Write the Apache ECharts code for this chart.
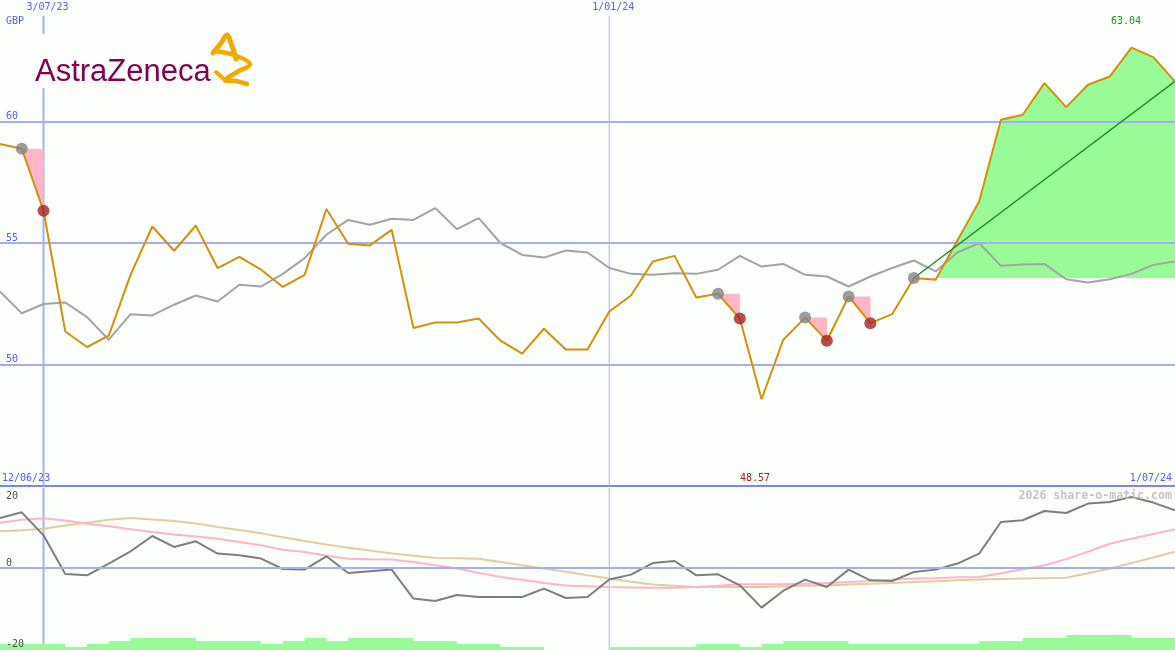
<!DOCTYPE html>
<html>
<head>
<meta charset="utf-8">
<script src="https://cdn.jsdelivr.net/npm/echarts@6.0.0/dist/echarts.min.js"></script>
<style>
html,body{margin:0;padding:0;background:#fdfffd;}
#chart{width:1175px;height:650px;}
</style>
</head>
<body>
<div id="chart"></div>
<script>
// ---- categories (weekly, Mondays) ----
const dates = [
  '19/06/23','26/06/23','3/07/23','10/07/23','17/07/23','24/07/23','31/07/23','7/08/23','14/08/23','21/08/23',
  '28/08/23','4/09/23','11/09/23','18/09/23','25/09/23','2/10/23','9/10/23','16/10/23','23/10/23','30/10/23',
  '6/11/23','13/11/23','20/11/23','27/11/23','4/12/23','11/12/23','18/12/23','25/12/23','1/01/24','8/01/24',
  '15/01/24','22/01/24','29/01/24','5/02/24','12/02/24','19/02/24','26/02/24','4/03/24','11/03/24','18/03/24',
  '25/03/24','1/04/24','8/04/24','15/04/24','22/04/24','29/04/24','6/05/24','13/05/24','20/05/24','27/05/24',
  '3/06/24','10/06/24','17/06/24','24/06/24','1/07/24'
];

// ---- price (GBP) ----
const price = [
  59.07,58.88,56.33,51.36,50.72,51.19,53.69,55.68,54.68,55.72,
  53.97,54.43,53.90,53.19,53.69,56.40,54.97,54.90,55.54,51.50,
  51.73,51.73,51.89,50.98,50.45,51.47,50.62,50.62,52.18,52.84,
  54.24,54.47,52.76,52.91,51.89,48.57,51.02,51.93,50.98,52.80,
  51.70,52.07,53.56,53.49,55.10,56.71,60.07,60.28,61.58,60.59,
  61.51,61.85,63.04,62.65,61.65
];

// ---- moving average (gray) ----
const avg = [
  53.00,52.11,52.49,52.55,51.95,51.02,52.07,52.02,52.46,52.84,
  52.59,53.28,53.21,53.73,54.38,55.34,55.95,55.75,56.00,55.95,
  56.44,55.57,56.02,55.00,54.51,54.40,54.69,54.61,53.97,53.73,
  53.69,53.76,53.73,53.90,54.47,54.03,54.14,53.69,53.62,53.21,
  53.62,53.97,54.28,53.83,54.61,55.00,54.06,54.12,54.14,53.51,
  53.37,53.51,53.73,54.10,54.24
];

// ---- signals: peak index (gray dot) followed by drop (red dot) ----
const peaks = [1, 33, 37, 39, 42];
const drops = [2, 34, 38, 40];
const buyIndex = 42;
const trendStart = 42, trendEnd = 54;

// ---- oscillator panel ----
const osc = [
  12.35,13.75,8.07,-1.48,-1.80,1.09,4.12,7.90,5.19,6.59,
  3.56,3.14,2.32,-0.25,-0.40,2.89,-1.23,-0.81,-0.40,-7.56,
  -8.15,-6.67,-7.16,-7.16,-7.16,-5.09,-7.41,-7.16,-2.86,-1.63,
  1.23,1.73,-1.80,-1.56,-4.27,-9.78,-5.60,-2.86,-4.69,-0.40,
  -3.04,-3.20,-0.99,-0.40,1.09,3.56,11.36,11.78,14.07,13.58,
  15.90,16.30,17.53,16.15,14.25
];
const oscPink = [
  11.2,11.9,12.3,11.7,10.95,10.3,9.55,8.9,8.3,7.8,
  7.25,6.4,5.6,4.5,3.95,3.1,2.3,2.15,2.1,1.5,
  0.67,-0.1,-1.2,-2.2,-2.9,-3.7,-4.3,-4.5,-4.7,-4.8,
  -4.9,-4.9,-4.7,-4.4,-4.0,-4.0,-4.0,-3.9,-3.7,-3.45,
  -3.2,-2.9,-2.6,-2.5,-2.3,-2.2,-1.3,-0.3,0.67,2.2,
  4.0,6.0,7.2,8.4,9.5
];
const oscTan = [
  9.06,9.3,9.7,10.5,11.2,11.9,12.35,12.0,11.6,11.0,
  10.1,9.4,8.6,7.6,6.67,5.8,5.0,4.3,3.6,3.0,
  2.5,2.4,2.3,1.5,0.7,-0.1,-0.9,-1.8,-2.6,-3.4,
  -4.1,-4.4,-4.7,-4.7,-4.7,-4.7,-4.5,-4.4,-4.3,-4.1,
  -3.9,-3.7,-3.45,-3.25,-3.05,-2.86,-2.7,-2.6,-2.5,-2.4,
  -1.3,-0.1,1.2,2.6,4.0
];

// ---- volume blocks (relative) ----
const volume = [
  6,6,6,3,6,9,12,12,12,9,
  9,9,6,9,12,9,12,12,12,9,
  9,6,6,3,3,0,0,0,3,3,
  3,3,6,6,3,6,9,9,9,6,
  6,6,6,6,6,9,9,12,12,15,
  15,15,12,12,12
];

// ---- axis ticks / labels ----
const priceTicks = [50, 55, 60];
const oscTicks = [-20, 0, 20];
const vLines = [{idx: 2, label: '3/07/23', width: 2}, {idx: 28, label: '1/01/24', width: 1}];
const rangeStart = '12/06/23', rangeEnd = '1/07/24';
const maxLabel = '63.04', minLabel = '48.57';

// ---- styles ----
const GRID_BLUE = '#a4b0f4';
const SEP_BLUE = '#7888ec';
const TXT_BLUE = '#5060f0';
const MONO = '"DejaVu Sans Mono", monospace';
const GOLD = '#f0aa00';

const chart = echarts.init(document.getElementById('chart'), null, {renderer: 'canvas'});

const greenArea = price.map((v, i) => i >= buyIndex + 1 ? v : null);
const trend = [[trendStart, price[trendStart]], [trendEnd, price[trendEnd]]];

const baseX = {type: 'category', data: dates, boundaryGap: false,
  axisLabel: {show: false}, axisTick: {show: false}, splitLine: {show: false}};

function goldLine(points, w) {
  return {type: 'polyline', z: 21, shape: {points: points, smooth: 0.35},
    style: {stroke: GOLD, lineWidth: w, fill: null, lineJoin: 'round', lineCap: 'round'}};
}

const option = {
  animation: false,
  backgroundColor: '#fdfffd',
  grid: [
    {left: 0, right: 0, top: 0, height: 486},
    {left: 0, right: 0, top: 487, height: 162},
    {left: 0, right: 0, top: 600, height: 50}
  ],
  xAxis: [
    Object.assign({}, baseX, {gridIndex: 0, axisLine: {show: true, lineStyle: {color: SEP_BLUE, width: 2}}}),
    Object.assign({}, baseX, {gridIndex: 1, axisLine: {show: false}}),
    Object.assign({}, baseX, {gridIndex: 2, axisLine: {show: false}})
  ],
  yAxis: [
    {gridIndex: 0, type: 'value', min: 45, max: 65, interval: 5, z: 10,
      axisLine: {show: false}, axisTick: {show: false}, splitLine: {show: false},
      axisLabel: {inside: true, margin: 6, verticalAlign: 'bottom', color: TXT_BLUE,
        fontFamily: MONO, fontSize: 10,
        formatter: v => priceTicks.indexOf(v) >= 0 ? String(v) : ''}},
    {gridIndex: 1, type: 'value', min: -20, max: 20, interval: 20, z: 10,
      axisLine: {show: false}, axisTick: {show: false}, splitLine: {show: false},
      axisLabel: {inside: true, margin: 6, verticalAlign: 'bottom', color: '#505050',
        fontFamily: MONO, fontSize: 10,
        formatter: v => (v !== 20 && oscTicks.indexOf(v) >= 0) ? String(v) : ''}},
    {gridIndex: 2, type: 'value', min: 0, max: 50, show: false}
  ],
  series: [
    // horizontal grid lines (top)
    {type: 'line', xAxisIndex: 0, yAxisIndex: 0, data: [], z: 1, silent: true,
      markLine: {symbol: 'none', silent: true, label: {show: false},
        lineStyle: {color: GRID_BLUE, width: 2, type: 'solid'},
        data: priceTicks.map(v => ({yAxis: v}))}},
    // horizontal zero line (bottom)
    {type: 'line', xAxisIndex: 1, yAxisIndex: 1, data: [], z: 1, silent: true,
      markLine: {symbol: 'none', silent: true, label: {show: false},
        lineStyle: {color: GRID_BLUE, width: 2, type: 'solid'},
        data: [{yAxis: 0}]}},
    // vertical date lines (top panel) with labels
    {type: 'custom', xAxisIndex: 0, yAxisIndex: 0, z: 1, silent: true,
      data: vLines.map(d => [d.idx, d.width]),
      renderItem: (params, api) => {
        const d = vLines[params.dataIndex];
        const top = api.coord([api.value(0), 64.35]);
        const bot = api.coord([api.value(0), 45]);
        return {type: 'group', children: [
          {type: 'line', shape: {x1: top[0], y1: top[1], x2: bot[0], y2: bot[1]},
            style: {stroke: GRID_BLUE, lineWidth: api.value(1)}},
          {type: 'text', style: {text: d.label, x: top[0] + 4, y: 2, align: 'center', verticalAlign: 'top',
            fill: TXT_BLUE, font: '10px ' + MONO}}
        ]};
      }},
    // vertical date lines (bottom panel)
    {type: 'custom', xAxisIndex: 1, yAxisIndex: 1, z: 1, silent: true,
      data: vLines.map(d => [d.idx, d.width]),
      renderItem: (params, api) => {
        const top = api.coord([api.value(0), 20]);
        const bot = api.coord([api.value(0), -20]);
        return {type: 'line', shape: {x1: top[0], y1: top[1] + 1, x2: bot[0], y2: bot[1] + 1},
          style: {stroke: GRID_BLUE, lineWidth: api.value(1)}};
      }},
    // green gain area
    {type: 'line', xAxisIndex: 0, yAxisIndex: 0, data: greenArea, z: 2, symbol: 'none',
      lineStyle: {width: 0, opacity: 0},
      areaStyle: {color: '#98fb98', opacity: 1, origin: price[buyIndex]}},
    // pink drop triangles
    {type: 'custom', xAxisIndex: 0, yAxisIndex: 0, z: 3, silent: true,
      data: peaks.map(k => [k, price[k], price[k + 1]]),
      renderItem: (params, api) => {
        const k = api.value(0);
        const a = api.coord([k, api.value(1)]);
        const b = api.coord([k + 1, api.value(1)]);
        const c = api.coord([k + 1, api.value(2)]);
        return {type: 'polygon', shape: {points: [a, b, c]}, style: {fill: '#ffb6c8'}};
      }},
    // moving average
    {type: 'line', xAxisIndex: 0, yAxisIndex: 0, data: avg, z: 4, symbol: 'none',
      lineStyle: {color: '#a4a4a4', width: 2}},
    // price
    {type: 'line', xAxisIndex: 0, yAxisIndex: 0, data: price, z: 5, symbol: 'none',
      lineStyle: {color: '#d58f0a', width: 2}},
    // trend line
    {type: 'line', xAxisIndex: 0, yAxisIndex: 0, data: trend, z: 6, symbol: 'none',
      lineStyle: {color: '#1f8f25', width: 1.5}},
    // peak dots
    {type: 'scatter', xAxisIndex: 0, yAxisIndex: 0, z: 7, symbolSize: 12,
      itemStyle: {color: '#838383'}, data: peaks.map(k => [k, price[k]])},
    // drop dots
    {type: 'scatter', xAxisIndex: 0, yAxisIndex: 0, z: 7, symbolSize: 12,
      itemStyle: {color: '#a52222'}, data: drops.map(k => [k, price[k]])},
    // oscillator lines
    {type: 'line', xAxisIndex: 1, yAxisIndex: 1, data: oscTan, z: 3, symbol: 'none',
      lineStyle: {color: '#e4cc9e', width: 2}},
    {type: 'line', xAxisIndex: 1, yAxisIndex: 1, data: oscPink, z: 3, symbol: 'none',
      lineStyle: {color: '#ffb4c8', width: 2}},
    {type: 'line', xAxisIndex: 1, yAxisIndex: 1, data: osc, z: 4, symbol: 'none',
      lineStyle: {color: '#7e7e7e', width: 2}},
    // volume blocks
    {type: 'line', xAxisIndex: 2, yAxisIndex: 2, data: volume, z: 5, symbol: 'none', step: 'end',
      lineStyle: {width: 0, opacity: 0},
      areaStyle: {color: '#98fb98', opacity: 1, origin: 'start'}}
  ],
  graphic: [
    {type: 'text', left: 6, top: 16, z: 10, style: {text: 'GBP', fill: TXT_BLUE, font: '10px ' + MONO}},
    {type: 'text', left: 1111, top: 16, z: 10, style: {text: maxLabel, fill: '#209020', font: '10px ' + MONO}},
    {type: 'text', left: 740, top: 473, z: 10, style: {text: minLabel, fill: '#a02020', font: '10px ' + MONO}},
    {type: 'text', left: 2, top: 473, z: 10, style: {text: rangeStart, fill: TXT_BLUE, font: '10px ' + MONO}},
    {type: 'text', right: 3, top: 473, z: 10, style: {text: rangeEnd, fill: TXT_BLUE, font: '10px ' + MONO}},
    {type: 'text', right: 3, top: 490, z: 10, style: {text: '2026 share-o-matic.com', fill: '#c4c4c4', font: 'bold 11.6px ' + MONO}},
    {type: 'text', left: 6, top: 491, z: 10, style: {text: '20', fill: '#505050', font: '10px ' + MONO}},
    // logo
    {type: 'rect', left: 30, top: 34, z: 20, shape: {width: 228, height: 54}, style: {fill: '#fdfffd'}},
    {type: 'text', left: 35, top: 57, z: 21, style: {text: 'AstraZeneca', fill: '#830051', font: '31px "Liberation Sans", Arial, sans-serif'}},
    goldLine([[213, 53], [221, 43], [227, 35], [232, 46], [236, 59]], 5),
    goldLine([[214, 51], [234, 55], [250, 64], [237, 72], [225, 80], [236, 81], [247, 84]], 4.5),
    goldLine([[216, 72], [225, 80]], 4)
  ]
};
chart.setOption(option);
</script>
</body>
</html>
